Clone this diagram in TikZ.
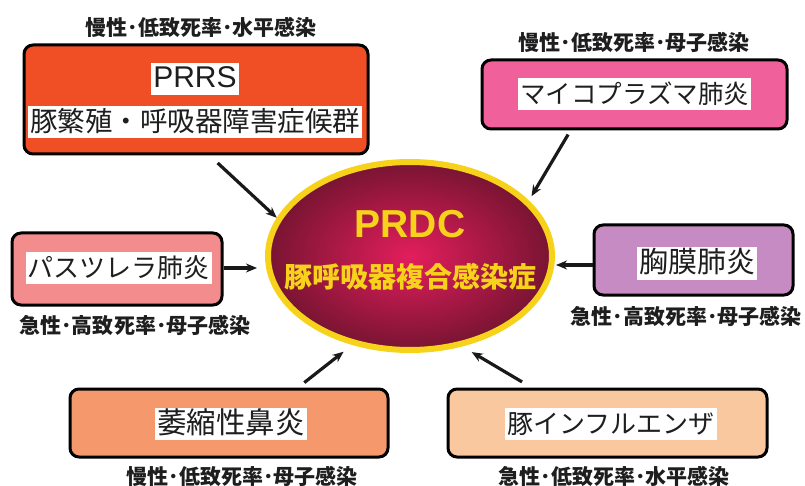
\documentclass[tikz,border=0pt]{standalone}
\usepackage{fontspec}
\newfontfamily\jp{Noto Sans CJK JP}
\newfontfamily\lat{Liberation Sans}
\usetikzlibrary{arrows.meta,shapes.geometric}
\definecolor{cPRRS}{HTML}{F04E24}
\definecolor{cMyco}{HTML}{F0609A}
\definecolor{cPast}{HTML}{F38C8C}
\definecolor{cPleu}{HTML}{C68BC2}
\definecolor{cAtro}{HTML}{F5986C}
\definecolor{cFlu}{HTML}{FAC89E}
\definecolor{cYel}{HTML}{F6D31A}
\definecolor{cIn}{HTML}{E31E5C}
\definecolor{cOut}{HTML}{781432}
\definecolor{cTxt}{HTML}{1E1E1E}
\begin{document}
\begin{tikzpicture}[x=1pt,y=-1pt,
  box/.style={draw=black, line width=3pt, rounded corners=9pt, inner sep=0pt},
  lbl/.style={fill=white, text=cTxt, inner xsep=2pt, inner ysep=2pt, text height=23pt, text depth=5pt},
  captxt/.style={text=cTxt, inner sep=0pt, font=\jp\bfseries\fontsize{21}{21}\selectfont},
  arr/.style={line width=3.2pt, draw=black!90, -{Stealth[length=11pt,width=9pt]}}]
\useasboundingbox (0,0) rectangle (805,486);

% centre ellipse
\node[ellipse, draw=cYel, line width=6pt, inner color=cIn, outer color=cOut,
      minimum width=284pt, minimum height=188pt] (prdc) at (410,256) {};
\node[text=cYel, inner sep=0pt, font=\lat\bfseries\fontsize{39}{39}\selectfont] (prdcA) at (410,224) {PRDC};
\node[text=cYel, inner sep=0pt, font=\jp\bfseries\fontsize{28}{28}\selectfont] (prdcB) at (410,277) {豚呼吸器複合感染症};

% boxes
\node[box, fill=cPRRS, minimum width=344pt, minimum height=109pt] (prrs) at (196,99.5) {};
\node[lbl, font=\lat\fontsize{30}{30}\selectfont] (prrsA) at (195,79) {PRRS};
\node[lbl, font=\jp\fontsize{27.5}{27.5}\selectfont] (prrsB) at (195,122.5) {豚繁殖・呼吸器障害症候群};
\node[captxt] (capPRRS) at (201,27) {慢性･低致死率･水平感染};

\node[box, fill=cMyco, minimum width=305pt, minimum height=69pt] (myco) at (634.5,94.5) {};
\node[lbl, font=\jp\fontsize{25.5}{25.5}\selectfont] (mycoL) at (634.5,94.5) {マイコプラズマ肺炎};
\node[captxt] (capMyco) at (634,42) {慢性･低致死率･母子感染};

\node[box, fill=cPast, minimum width=210pt, minimum height=72pt] (past) at (117,269) {};
\node[lbl, font=\jp\fontsize{26}{26}\selectfont] (pastL) at (118.5,268) {パスツレラ肺炎};
\node[captxt] (capPast) at (135,325) {急性･高致死率･母子感染};

\node[box, fill=cPleu, minimum width=199pt, minimum height=70pt] (pleu) at (693.5,260) {};
\node[lbl, font=\jp\fontsize{29}{29}\selectfont] (pleuL) at (697,263.5) {胸膜肺炎};
\node[captxt] (capPleu) at (686,316) {急性･高致死率･母子感染};

\node[box, fill=cAtro, minimum width=318pt, minimum height=68pt] (atro) at (229,423) {};
\node[lbl, font=\jp\fontsize{29.5}{29.5}\selectfont] (atroL) at (231,424) {萎縮性鼻炎};
\node[captxt] (capAtro) at (242,476) {慢性･低致死率･母子感染};

\node[box, fill=cFlu, minimum width=319pt, minimum height=68pt] (flu) at (607.5,423) {};
\node[lbl, font=\jp\fontsize{26}{26}\selectfont] (fluL) at (611,424) {豚インフルエンザ};
\node[captxt] (capFlu) at (614,476) {急性･低致死率･水平感染};

% arrows
\draw[arr, shorten <=11pt] ([xshift=13.6pt]prrs.south) -- (prdc.164);
\draw[arr, shorten <=4.7pt, shorten >=5pt] ([xshift=-64pt]myco.south) -- (prdc.25);
\draw[arr, shorten >=8pt] ([yshift=1pt]past.east) -- ([yshift=1pt]past.east -| prdc.west);
\draw[arr, shorten >=1pt] ([yshift=-5pt]pleu.west) -- ([yshift=-5pt]pleu.west -| prdc.east);
\draw[arr, shorten <=8pt, shorten >=11pt] ([xshift=69pt]atro.north) -- (prdc.237);
\draw[arr, shorten <=11pt, shorten >=11pt] ([xshift=-76pt]flu.north) -- (prdc.300);
\end{tikzpicture}
\end{document}
